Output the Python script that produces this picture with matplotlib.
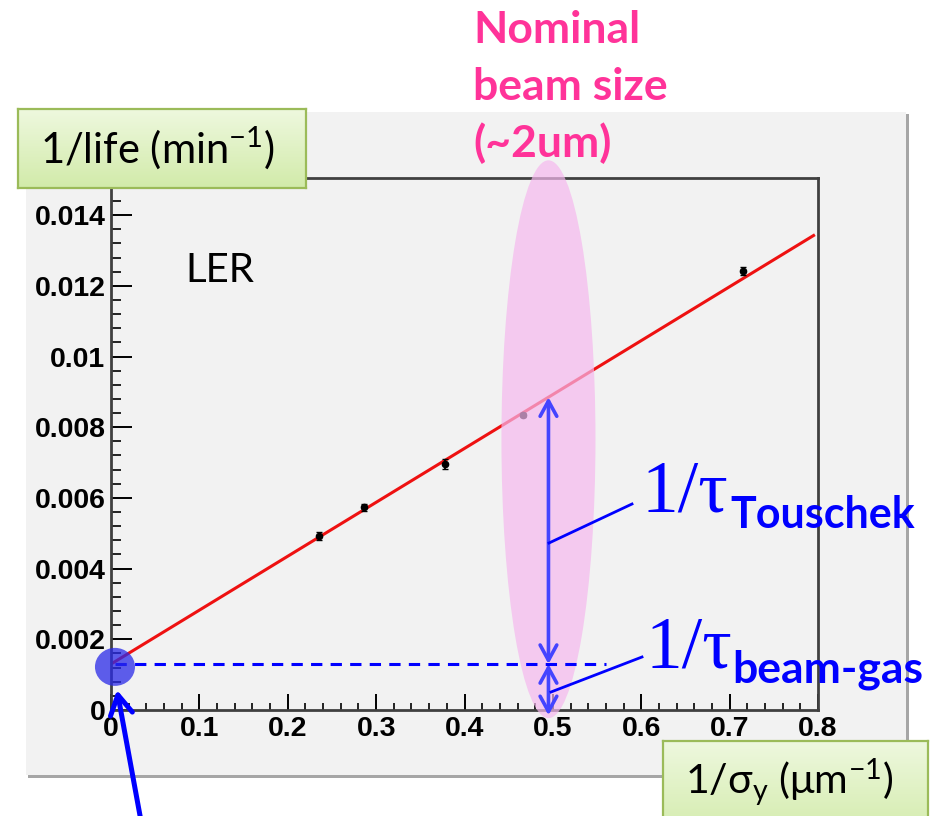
import numpy as np
import matplotlib
matplotlib.use("Agg")
import matplotlib.pyplot as plt
from matplotlib.patches import Ellipse, Rectangle
from matplotlib.lines import Line2D
from matplotlib.colors import LinearSegmentedColormap

plt.rcParams['mathtext.fontset'] = 'custom'
plt.rcParams['mathtext.rm'] = 'Lato'
plt.rcParams['mathtext.it'] = 'Lato:italic'
plt.rcParams['mathtext.bf'] = 'Lato:bold'

# measured points: 1/sigma_y (um^-1) vs 1/lifetime (min^-1)
inv_sigma = [0.235, 0.286, 0.378, 0.466, 0.715]
inv_life = [0.00492, 0.00574, 0.00696, 0.00834, 0.01242]
inv_life_err = [0.00012, 0.00010, 0.00014, 0.00005, 0.00012]

# straight line fit
fit_intercept = 0.0013
fit_slope = 0.01525
fit_range = [0.0, 0.795]

nominal = 0.495  # 1/sigma_y at nominal beam size (~2um)

x_ticks = [0, 0.1, 0.2, 0.3, 0.4, 0.5, 0.6, 0.7, 0.8]
x_labels = ['0', '0.1', '0.2', '0.3', '0.4', '0.5', '0.6', '0.7', '0.8']
y_ticks = [0, 0.002, 0.004, 0.006, 0.008, 0.01, 0.012, 0.014]
y_labels = ['0', '0.002', '0.004', '0.006', '0.008', '0.01', '0.012', '0.014']

W, H = 941, 816
BLUE = '#0000ff'
ARROW = '#4444ff'


def fp(x, y):
    # pixel (from top-left) -> figure fraction
    return (x / W, 1 - y / H)


fig = plt.figure(figsize=(W / 100, H / 100), dpi=100)
fig.patch.set_facecolor('white')

# ROOT canvas pad with shadow
fig.add_artist(Rectangle(fp(28, 778), 881 / W, 664 / H, transform=fig.transFigure,
                         facecolor='#a6a6a6', edgecolor='none', zorder=-3))
fig.add_artist(Rectangle(fp(26, 775), 880 / W, 663 / H, transform=fig.transFigure,
                         facecolor='#f2f2f2', edgecolor='none', zorder=-2))

ax = fig.add_axes([111 / W, 1 - 710 / H, 707 / W, 532 / H])
ax.set_facecolor('#f2f2f2')
ax.set_xlim(0, 0.8)
ax.set_ylim(0, 0.01505)

for s in ax.spines.values():
    s.set_color('#404040')
    s.set_linewidth(2)

ax.set_xticks(x_ticks)
ax.set_xticklabels(x_labels, family='Liberation Sans', fontweight='bold', fontsize=20.5)
ax.set_yticks(y_ticks)
ax.set_yticklabels(y_labels, family='Liberation Sans', fontweight='bold', fontsize=20.5)
ax.set_xticks(np.arange(0, 0.8001, 0.02), minor=True)
ax.set_yticks(np.arange(0, 0.01501, 0.0004), minor=True)
ax.tick_params(axis='x', which='major', direction='in', length=11.5, width=1.4, pad=4)
ax.tick_params(axis='x', which='minor', direction='in', length=5, width=1.2)
ax.tick_params(axis='y', which='major', direction='in', length=15, width=1.4, pad=4)
ax.tick_params(axis='y', which='minor', direction='in', length=7, width=1.2)

# fit line and data
fx = np.array(fit_range)
ax.plot(fx, fit_intercept + fit_slope * fx, color='#ee1111', lw=2.2, zorder=2)
ax.errorbar(inv_sigma, inv_life, yerr=inv_life_err, fmt='o', color='black',
            ms=4.5, elinewidth=1.3, capsize=2.5, zorder=3)

# nominal beam size highlight
ax.add_patch(Ellipse((nominal, 0.00766), 0.1064, 0.01578, facecolor='#f5b8ee',
                     edgecolor='none', alpha=0.7, clip_on=False, zorder=4))

# beam-gas level
ax.plot([0.005, 0.56], [fit_intercept, fit_intercept], color=BLUE, lw=2.2,
        dashes=(3.7, 2.7), zorder=5)
ax.add_patch(Ellipse((0.0045, 0.00122), 0.0453, 0.001075, facecolor='#2a2ae8',
                     edgecolor='none', alpha=0.75, clip_on=False, zorder=6))

y_nom = fit_intercept + fit_slope * nominal
arrow_kw = dict(arrowstyle='<->,head_length=1.1,head_width=0.6', color=ARROW,
                lw=2.6, shrinkA=0, shrinkB=0)
ax.annotate('', xy=(nominal, y_nom), xytext=(nominal, fit_intercept),
            arrowprops=arrow_kw, annotation_clip=False, zorder=7)
ax.annotate('', xy=(nominal, fit_intercept), xytext=(nominal, -0.00015),
            arrowprops=arrow_kw, annotation_clip=False, zorder=7)

ax.text(0.105, 0.805, 'LER', transform=ax.transAxes, family='Lato',
        fontsize=29, va='baseline', color='black')

# leader lines
fig.add_artist(Line2D([549 / W, 632 / W], [1 - 543 / H, 1 - 504 / H],
                      transform=fig.transFigure, color=BLUE, lw=2, zorder=8))
fig.add_artist(Line2D([551 / W, 642 / W], [1 - 692 / H, 1 - 657 / H],
                      transform=fig.transFigure, color=BLUE, lw=2, zorder=8))

# tau labels
fig.text(*fp(641, 512), '1/τ', family='Liberation Serif', fontsize=53,
         color=BLUE, va='baseline', zorder=8)
fig.text(*fp(730, 528), 'Touschek', family='Lato', fontweight='bold', fontsize=31,
         color=BLUE, va='baseline', zorder=8)
fig.text(*fp(645, 667), '1/τ', family='Liberation Serif', fontsize=53,
         color=BLUE, va='baseline', zorder=8)
fig.text(*fp(732, 683), 'beam-gas', family='Lato', fontweight='bold', fontsize=32,
         color=BLUE, va='baseline', zorder=8)

# pink note
note_lines = ['Nominal', 'beam size', '(~2um)']
for i, line in enumerate(note_lines):
    fig.text(*fp(473, 43 + 57 * i), line, family='Lato', fontweight='bold',
             fontsize=32, color='#ff3399', va='baseline', zorder=8)

# arrow pointing to the intercept
fig.add_artist(plt.Annotation('', xy=(117, H - 690), xytext=(141, -5),
                              xycoords='figure pixels', textcoords='figure pixels',
                              arrowprops=dict(arrowstyle='->,head_length=1.4,head_width=0.8',
                                              color=BLUE, lw=3.6, shrinkA=0, shrinkB=0),
                              annotation_clip=False))

# green axis label boxes
cmap = LinearSegmentedColormap.from_list('boxgreen', ['#eef8de', '#d2ebaa'])


def label_box(x0, y0, x1, y1):
    bax = fig.add_axes([x0 / W, 1 - y1 / H, (x1 - x0) / W, (y1 - y0) / H], zorder=9)
    bax.imshow(np.linspace(0, 1, 64).reshape(-1, 1), aspect='auto', cmap=cmap,
               extent=[0, 1, 0, 1])
    bax.set_xticks([])
    bax.set_yticks([])
    for s in bax.spines.values():
        s.set_color('#9bbb59')
        s.set_linewidth(1.6)
    return bax


label_box(18, 109, 306, 188)
label_box(663, 741, 928, 840)

fig.text(*fp(40, 163), '1/life (min$^{-1}$)', family='Lato', fontsize=30,
         color='black', va='baseline', zorder=10)
fig.text(*fp(685, 794), '1/$\\mathrm{\\sigma}_\\mathrm{y}$ ($\\mathrm{\\mu}$m$^{-1}$)',
         family='Lato', fontsize=29.5, color='black', va='baseline', zorder=10)

fig.savefig('out.png', dpi=100)
